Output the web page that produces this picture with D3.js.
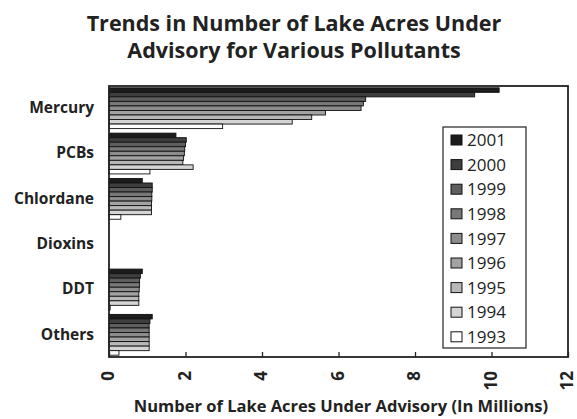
<!DOCTYPE html>
<html><head><meta charset="utf-8">
<script src="https://cdn.jsdelivr.net/npm/d3@7/dist/d3.min.js"></script>
<style>body{margin:0;background:#fff}svg{display:block}</style>
</head><body>
<svg id="c" width="577" height="419"></svg>
<script>
const categories = ["Mercury","PCBs","Chlordane","Dioxins","DDT","Others"];
const years = ["2001","2000","1999","1998","1997","1996","1995","1994","1993"];
const v2001 = [10.20, 1.75, 0.87, 0, 0.87, 1.13];
const v2000 = [9.56, 2.02, 1.13, 0, 0.82, 1.07];
const v1999 = [6.71, 2.00, 1.13, 0, 0.80, 1.05];
const v1998 = [6.65, 1.98, 1.12, 0, 0.80, 1.05];
const v1997 = [6.59, 1.97, 1.12, 0, 0.79, 1.05];
const v1996 = [5.66, 1.95, 1.11, 0, 0.78, 1.05];
const v1995 = [5.30, 1.93, 1.11, 0, 0.78, 1.05];
const v1994 = [4.79, 2.20, 1.11, 0, 0.78, 1.05];
const v1993 = [2.97, 1.07, 0.31, 0, 0.03, 0.26];
const seriesValues = [v2001,v2000,v1999,v1998,v1997,v1996,v1995,v1994,v1993];
const colors = ["#1c1c1c","#3e3e3e","#5e5e5e","#787878","#8c8c8c","#a2a2a2","#b8b8b8","#d4d4d4","#ffffff"];
const xTicks = [0,2,4,6,8,10,12];

const svg = d3.select("#c");
const L=109, R=568, T=86, B=357;
const x = d3.scaleLinear().domain([0,12]).range([L,R]);
const y0 = d3.scaleBand().domain(categories).range([T,B]).paddingInner(0.1).paddingOuter(0.04);
const y1 = d3.scaleBand().domain(years).range([0,y0.bandwidth()]);
const font = "'Open Sans', sans-serif";

svg.append("text").attr("x",294).attr("y",31).attr("text-anchor","middle")
  .attr("font-family",font).attr("font-weight","bold").attr("font-size",21.5).attr("fill","#222")
  .text("Trends in Number of Lake Acres Under");
svg.append("text").attr("x",294).attr("y",58).attr("text-anchor","middle")
  .attr("font-family",font).attr("font-weight","bold").attr("font-size",21.5).attr("fill","#222")
  .text("Advisory for Various Pollutants");

// bars
const g = svg.append("g");
categories.forEach((c,ci)=>{
  years.forEach((yr,si)=>{
    const v = seriesValues[si][ci];
    if (v<=0) return;
    g.append("rect").attr("x",x(0)).attr("y",y0(c)+y1(yr))
      .attr("width",x(v)-x(0)).attr("height",y1.bandwidth())
      .attr("fill",colors[si]).attr("stroke","#111").attr("stroke-width",0.9);
  });
});

// frame
svg.append("rect").attr("x",L).attr("y",T).attr("width",R-L).attr("height",B-T)
  .attr("fill","none").attr("stroke","#222").attr("stroke-width",1.8);

// x axis
const xa = svg.append("g").attr("transform",`translate(0,${B})`)
  .call(d3.axisBottom(x).tickValues(xTicks).tickSize(0).tickFormat(d3.format("d")));
xa.select(".domain").remove();
xa.selectAll("text").attr("transform","rotate(-90)").attr("text-anchor","end")
  .attr("x",-14).attr("y",-1).attr("dy","0.35em").attr("dx",0)
  .attr("font-family",font).attr("font-weight","bold").attr("font-size",17).attr("fill","#222");
xa.selectAll(".tick").append("line").attr("y1",0).attr("y2",-5).attr("stroke","#222").attr("stroke-width",1.3);

// y labels
const ya = svg.append("g").attr("transform",`translate(${L},0)`)
  .call(d3.axisLeft(y0).tickSize(0).tickPadding(15));
ya.select(".domain").remove();
ya.selectAll("text").attr("font-family",font).attr("font-weight","bold").attr("font-size",15.5).attr("fill","#222");

svg.append("text").attr("x",341).attr("y",412).attr("text-anchor","middle")
  .attr("font-family",font).attr("font-weight","bold").attr("font-size",16.5).attr("fill","#222")
  .text("Number of Lake Acres Under Advisory (In Millions)");

// legend
const lg = svg.append("g");
lg.append("rect").attr("x",443).attr("y",127).attr("width",83).attr("height",221)
  .attr("fill","#fff").attr("stroke","#222").attr("stroke-width",1.2);
years.forEach((yr,i)=>{
  const cy = 140 + i*24.6;
  lg.append("rect").attr("x",451).attr("y",cy-5).attr("width",11).attr("height",10)
    .attr("fill",colors[i]).attr("stroke","#111").attr("stroke-width",1);
  lg.append("text").attr("x",467).attr("y",cy).attr("dy","0.36em")
    .attr("font-family",font).attr("font-size",17).attr("fill","#222").text(yr);
});
</script>
</body></html>
